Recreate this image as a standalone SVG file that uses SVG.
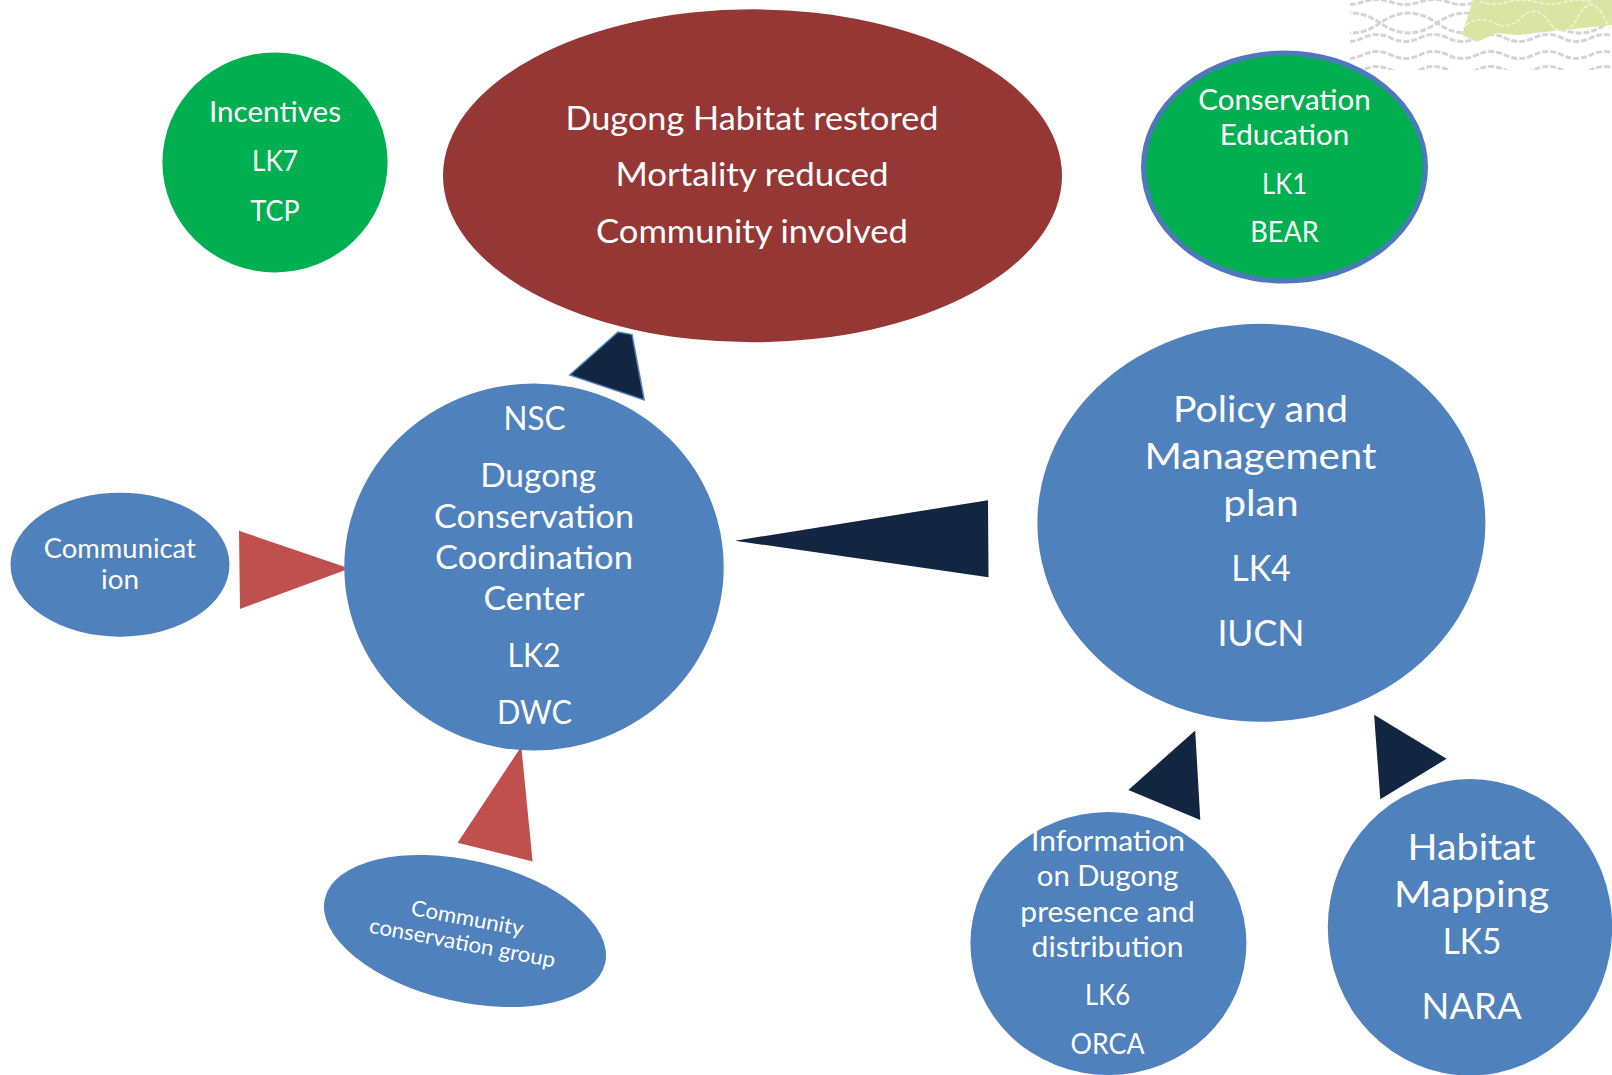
<svg xmlns="http://www.w3.org/2000/svg" width="1612" height="1075" viewBox="0 0 1612 1075">
<style>
text{font-family:"Lato","Open Sans","Liberation Sans",sans-serif;fill:#fff;text-anchor:middle}
.b{fill:#4f81bd}.g{fill:#00b050}.n{fill:#122641}.r{fill:#c0504d}
.w{fill:none;stroke:#d4d4d4;stroke-width:3;stroke-dasharray:6 2}
.wl{fill:none;stroke:#f4f7df;stroke-width:1.5;stroke-dasharray:4 2}
.s38{font-size:37.6px}.s33{font-size:33.4px}.s28{font-size:28.5px}.s26{font-size:26px}.s21{font-size:21.5px}
</style>
<defs><clipPath id="bgclip"><rect x="1350" y="0" width="262" height="70"/></clipPath></defs>
<rect width="1612" height="1075" fill="#fff"/>
<g id="background-texture" clip-path="url(#bgclip)">
<path class="w" d="M1334 2q14 5 28.5 0t28.5 0t28.5 0t28.5 0t28.5 0t28.5 0t28.5 0t28.5 0t28.5 0t28.5 0"/>
<path class="w" d="M1323 23q28.5 20 57 0t57 0t57 0t57 0t57 0"/>
<path class="w" d="M1323 23q28.5 -20 57 0t57 0t57 0t57 0t57 0"/>
<path class="w" d="M1334 38q14 7 28.5 0t28.5 0t28.5 0t28.5 0t28.5 0t28.5 0t28.5 0t28.5 0t28.5 0t28.5 0"/>
<path class="w" d="M1334 55q14 7 28.5 0t28.5 0t28.5 0t28.5 0t28.5 0t28.5 0t28.5 0t28.5 0t28.5 0t28.5 0"/>
<path class="w" d="M1334 70q14 7 28.5 0t28.5 0t28.5 0t28.5 0t28.5 0t28.5 0t28.5 0t28.5 0t28.5 0t28.5 0"/>
</g>
<polygon id="background-leaf" fill="#dbe5a3" points="1473,0 1462,35 1477,41.7 1497,33 1517,35 1563,30 1612,25 1612,0"/>
<path class="wl" d="M1466 25q14 -10 28 -2t28 -6t28 6t28 -6t28 4t6 -3M1480 2q14 4 28 0t28 0t28 0t28 0"/>
<g id="connectors">
<polygon class="n" stroke="#4f81bd" stroke-width="1.5" points="569.7,375 618,332 632,334.6 644.2,400"/>
<polygon class="n" points="735,540.7 988,500.2 988.5,577.3"/>
<polygon class="r" points="239,530.8 349.6,568.4 240,609"/>
<polygon class="r" points="521.3,746.4 457.6,842.8 532.6,861.5"/>
<polygon class="n" points="1195.2,730.5 1128.4,789.9 1200.3,820"/>
<polygon class="n" points="1374.1,714.7 1446.6,758.7 1380.3,799.3"/>
</g>
<g id="incentives">
<ellipse class="g" cx="275" cy="162.4" rx="112.6" ry="110"/>
<text class="s28" x="275" y="121.7" textLength="132" lengthAdjust="spacingAndGlyphs">Incentives</text>
<text class="s28" x="275" y="171" textLength="46" lengthAdjust="spacingAndGlyphs">LK7</text>
<text class="s28" x="275" y="220.5" textLength="49" lengthAdjust="spacingAndGlyphs">TCP</text>
</g>
<g id="goal">
<ellipse fill="#953735" cx="752.5" cy="175.8" rx="309.5" ry="166.5"/>
<text class="s33" x="752" y="129.5" textLength="373" lengthAdjust="spacingAndGlyphs">Dugong Habitat restored</text>
<text class="s33" x="752" y="186.3" textLength="273" lengthAdjust="spacingAndGlyphs">Mortality reduced</text>
<text class="s33" x="752" y="242.7" textLength="312" lengthAdjust="spacingAndGlyphs">Community involved</text>
</g>
<g id="education">
<ellipse class="g" stroke="#4f78bc" stroke-width="5" cx="1284.5" cy="167" rx="141" ry="114"/>
<text class="s28" x="1284.5" y="110" textLength="172.5" lengthAdjust="spacingAndGlyphs">Conservation</text>
<text class="s28" x="1284.5" y="145" textLength="129.5" lengthAdjust="spacingAndGlyphs">Education</text>
<text class="s28" x="1284.5" y="194" textLength="45" lengthAdjust="spacingAndGlyphs">LK1</text>
<text class="s28" x="1284.5" y="242" textLength="68.5" lengthAdjust="spacingAndGlyphs">BEAR</text>
</g>
<g id="coordination">
<ellipse class="b" cx="534" cy="567" rx="189.7" ry="183.5"/>
<text class="s33" x="534.6" y="429.5" textLength="62" lengthAdjust="spacingAndGlyphs">NSC</text>
<text class="s33" x="538.2" y="486.8" textLength="116" lengthAdjust="spacingAndGlyphs">Dugong</text>
<text class="s33" x="534" y="528.4" textLength="200" lengthAdjust="spacingAndGlyphs">Conservation</text>
<text class="s33" x="534" y="569.4" textLength="198" lengthAdjust="spacingAndGlyphs">Coordination</text>
<text class="s33" x="534" y="610.4" textLength="101" lengthAdjust="spacingAndGlyphs">Center</text>
<text class="s33" x="534" y="666.8" textLength="53" lengthAdjust="spacingAndGlyphs">LK2</text>
<text class="s33" x="534.5" y="724" textLength="75" lengthAdjust="spacingAndGlyphs">DWC</text>
</g>
<g id="policy">
<ellipse class="b" cx="1261.4" cy="522.8" rx="224" ry="199"/>
<text class="s38" x="1260.4" y="422" textLength="175" lengthAdjust="spacingAndGlyphs">Policy and</text>
<text class="s38" x="1260.4" y="469" textLength="232" lengthAdjust="spacingAndGlyphs">Management</text>
<text class="s38" x="1260.9" y="515.5" textLength="75.5" lengthAdjust="spacingAndGlyphs">plan</text>
<text class="s38" x="1261" y="580.5" textLength="59.5" lengthAdjust="spacingAndGlyphs">LK4</text>
<text class="s38" x="1260.9" y="645.8" textLength="87" lengthAdjust="spacingAndGlyphs">IUCN</text>
</g>
<g id="communication">
<ellipse class="b" cx="120" cy="564.7" rx="109.5" ry="72"/>
<text class="s26" x="119.8" y="557.5" textLength="152" lengthAdjust="spacingAndGlyphs">Communicat</text>
<text class="s26" x="120" y="589" textLength="38" lengthAdjust="spacingAndGlyphs">ion</text>
</g>
<g id="community">
<ellipse class="b" cx="465" cy="931" rx="143.8" ry="70.6" transform="rotate(13 465 931)"/>
<text class="s21" x="466" y="925.4" transform="rotate(10.7 466 925.4)" textLength="114" lengthAdjust="spacingAndGlyphs">Community</text>
<text class="s21" x="461" y="950" transform="rotate(10.7 461 950)" textLength="189" lengthAdjust="spacingAndGlyphs">conservation group</text>
</g>
<g id="information">
<ellipse class="b" cx="1108.4" cy="943.5" rx="138" ry="131.5"/>
<text class="s28" x="1108" y="850.8" textLength="154" lengthAdjust="spacingAndGlyphs">Information</text>
<text class="s28" x="1107.6" y="886" textLength="141.5" lengthAdjust="spacingAndGlyphs">on Dugong</text>
<text class="s28" x="1107.6" y="921.9" textLength="174.5" lengthAdjust="spacingAndGlyphs">presence and</text>
<text class="s28" x="1107.6" y="957.4" textLength="152" lengthAdjust="spacingAndGlyphs">distribution</text>
<text class="s28" x="1107.6" y="1005.2" textLength="45" lengthAdjust="spacingAndGlyphs">LK6</text>
<text class="s28" x="1107.6" y="1054" textLength="74" lengthAdjust="spacingAndGlyphs">ORCA</text>
</g>
<g id="habitat">
<ellipse class="b" cx="1470" cy="927.3" rx="142.2" ry="148.2"/>
<text class="s38" x="1471.6" y="859.6" textLength="128" lengthAdjust="spacingAndGlyphs">Habitat</text>
<text class="s38" x="1471.6" y="907" textLength="155" lengthAdjust="spacingAndGlyphs">Mapping</text>
<text class="s38" x="1472" y="953.5" textLength="58.5" lengthAdjust="spacingAndGlyphs">LK5</text>
<text class="s38" x="1471.6" y="1018.8" textLength="100" lengthAdjust="spacingAndGlyphs">NARA</text>
</g>
</svg>
